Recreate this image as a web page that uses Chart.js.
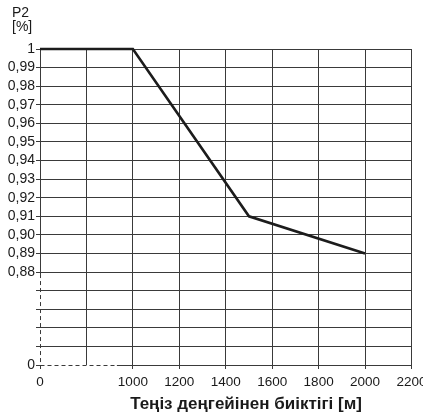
<!DOCTYPE html>
<html><head><meta charset="utf-8">
<script src="https://cdn.jsdelivr.net/npm/chart.js@4.4.0/dist/chart.umd.min.js"></script>
<style>html,body{margin:0;padding:0;background:#fff}canvas{display:block}</style>
</head><body>
<canvas id="c" width="423" height="417"></canvas>
<script>
// ---- data ----
const altitudes = [0, 1000, 1500, 2000];
const p2Values = [1, 1, 0.91, 0.89];
const xTickValues = [0, 500, 1000, 1200, 1400, 1600, 1800, 2000, 2200];
const xTickLabels = ['0', '', '1000', '1200', '1400', '1600', '1800', '2000', '2200'];
const yTickValues = [0, 0.88, 0.89, 0.90, 0.91, 0.92, 0.93, 0.94, 0.95, 0.96, 0.97, 0.98, 0.99, 1];
const yTickLabels = ['0', '0,88', '0,89', '0,90', '0,91', '0,92', '0,93', '0,94', '0,95', '0,96', '0,97', '0,98', '0,99', '1'];
const yBreakLines = 4;
const xTitle = 'Теңіз деңгейінен биіктігі [м]';
const yTitle = ['P2', '[%]'];

// ---- axis breaks (value -> display units) ----
const BREAKS = {
  x: { fwd: v => v <= 1000 ? 600 + v * 0.4 : v, inv: d => d <= 1000 ? (d - 600) / 0.4 : d, min: 600, max: 2200 },
  y: { fwd: v => v >= 0.88 ? v : 0.83 + v / 0.88 * 0.05, inv: d => d >= 0.88 ? d : (d - 0.83) / 0.05 * 0.88, min: 0.83, max: 1 }
};
class BrokenLinearScale extends Chart.LinearScale {
  getPixelForValue(value) {
    if (value === null || value === undefined) return NaN;
    return super.getPixelForValue(BREAKS[this.id].fwd(value));
  }
  getValueForPixel(p) {
    return BREAKS[this.id].inv(super.getValueForPixel(p));
  }
}
BrokenLinearScale.id = 'brokenLinear';
BrokenLinearScale.defaults = Chart.LinearScale.defaults;
Chart.register(BrokenLinearScale);

const yBreakValues = [];
for (let i = 1; i <= yBreakLines; i++) yBreakValues.push(BREAKS.y.inv(0.83 + i * 0.01));
const yAllTicks = [yTickValues[0], ...yBreakValues, ...yTickValues.slice(1)];

function labelFor(values, labels, v) {
  for (let i = 0; i < values.length; i++) if (Math.abs(values[i] - v) < 1e-9) return labels[i];
  return '';
}

const GRID = '#3a3a3a';
const FONT = 'Liberation Sans, Arial, sans-serif';

const customDraw = {
  id: 'customDraw',
  beforeDatasetsDraw(chart) {
    const ctx = chart.ctx, a = chart.chartArea;
    const xs = chart.scales.x, ys = chart.scales.y;
    const al = p => Math.round(p - 0.5) + 0.5;
    const lx = al(a.left), by = al(a.bottom);
    const y88 = ys.getPixelForValue(0.88) + 2;
    const xSolid = xs.getPixelForValue(1000) - 16;
    ctx.save();
    ctx.strokeStyle = GRID; ctx.lineWidth = 1;
    // left axis
    ctx.beginPath(); ctx.moveTo(lx, a.top); ctx.lineTo(lx, y88); ctx.stroke();
    ctx.setLineDash([4, 3]);
    ctx.beginPath(); ctx.moveTo(lx, y88); ctx.lineTo(lx, by); ctx.stroke();
    // bottom axis
    ctx.beginPath(); ctx.moveTo(lx, by); ctx.lineTo(xSolid, by); ctx.stroke();
    ctx.setLineDash([]);
    ctx.beginPath(); ctx.moveTo(xSolid, by); ctx.lineTo(a.right, by); ctx.stroke();
    ctx.restore();
  },
  afterDraw(chart) {
    const ctx = chart.ctx;
    ctx.save();
    ctx.fillStyle = '#1a1a1a';
    ctx.textAlign = 'left'; ctx.textBaseline = 'alphabetic';
    ctx.font = '14px ' + FONT;
    ctx.fillText(yTitle[0], 12, 17);
    ctx.fillText(yTitle[1], 12, 31);
    ctx.font = 'bold 17px ' + FONT;
    ctx.textAlign = 'center';
    ctx.fillText(xTitle, 246, 409);
    ctx.restore();
  }
};

new Chart(document.getElementById('c'), {
  type: 'line',
  data: {
    datasets: [{
      data: altitudes.map((x, i) => ({ x, y: p2Values[i] })),
      borderColor: '#1c1c1c',
      borderWidth: 2.6,
      pointRadius: 0,
      tension: 0,
      fill: false,
      clip: false
    }]
  },
  options: {
    responsive: false,
    animation: false,
    events: [],
    layout: { padding: { top: 49, right: 11.5, left: 0, bottom: 0 } },
    plugins: { legend: { display: false }, tooltip: { enabled: false }, title: { display: false } },
    scales: {
      x: {
        type: 'brokenLinear',
        min: BREAKS.x.min, max: BREAKS.x.max, bounds: 'data',
        afterBuildTicks: s => { s.ticks = xTickValues.map(v => ({ value: v })); },
        afterFit: s => { s.height = 52; s.paddingLeft = 0; s.paddingRight = 0; },
        ticks: {
          autoSkip: false, maxRotation: 0, minRotation: 0,
          callback: v => labelFor(xTickValues, xTickLabels, v),
          font: { family: FONT, size: 13.5 }, color: '#1a1a1a', padding: 5
        },
        grid: {
          lineWidth: 1, tickLength: 4,
          color: c => (c.tick && c.tick.value === 0) ? 'rgba(0,0,0,0)' : GRID,
          tickColor: c => (c.tick && c.tick.value === 500) ? 'rgba(0,0,0,0)' : GRID
        },
        border: { display: false }
      },
      y: {
        type: 'brokenLinear',
        min: BREAKS.y.min, max: BREAKS.y.max, bounds: 'data',
        afterBuildTicks: s => { s.ticks = yAllTicks.map(v => ({ value: v })); },
        afterFit: s => { s.width = 40; s.paddingTop = 0; s.paddingBottom = 0; },
        ticks: {
          autoSkip: false,
          callback: v => labelFor(yTickValues, yTickLabels, v),
          font: { family: FONT, size: 14 }, color: '#1a1a1a', padding: 1
        },
        grid: {
          lineWidth: 1, tickLength: 4,
          color: c => (c.tick && c.tick.value === 0) ? 'rgba(0,0,0,0)' : GRID,
          tickColor: GRID
        },
        border: { display: false }
      }
    }
  },
  plugins: [customDraw]
});
</script>
</body></html>
